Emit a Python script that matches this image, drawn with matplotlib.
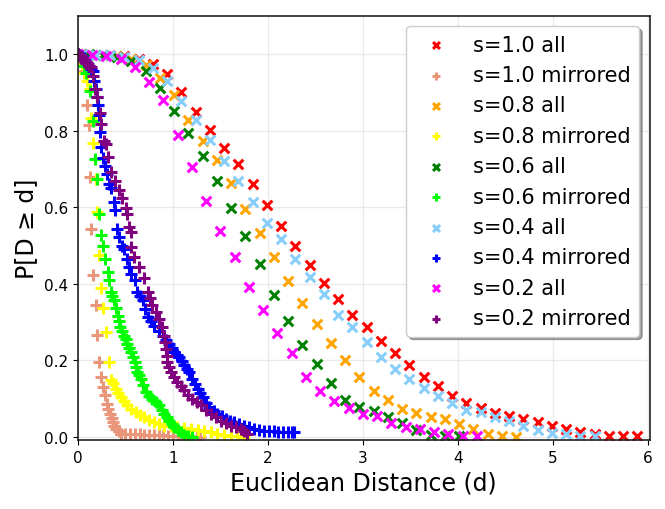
import matplotlib
matplotlib.use("Agg")
import matplotlib.pyplot as plt

# ---- "all" series (CCDF sampled on regular bins) ----
x_red = [0.04, 0.19, 0.34, 0.49, 0.64, 0.79, 0.94, 1.09, 1.24, 1.39, 1.54, 1.69, 1.84, 1.99,
         2.14, 2.29, 2.44, 2.59, 2.74, 2.89, 3.04, 3.19, 3.34, 3.49, 3.64, 3.79, 3.94, 4.09,
         4.24, 4.39, 4.54, 4.69, 4.84, 4.99, 5.14, 5.29, 5.44, 5.59, 5.74, 5.89]
y_s10_all = [1.0, 0.999, 0.998, 0.995, 0.988, 0.975, 0.947, 0.902, 0.849, 0.802, 0.755, 0.714,
             0.661, 0.605, 0.551, 0.500, 0.450, 0.403, 0.361, 0.319, 0.288, 0.250, 0.220, 0.189,
             0.157, 0.133, 0.107, 0.090, 0.076, 0.063, 0.056, 0.048, 0.039, 0.030, 0.022, 0.013,
             0.008, 0.003, 0.002, 0.002]

x_s04_all = x_red[:37]
y_s04_all = [1.0, 0.999, 0.997, 0.993, 0.985, 0.963, 0.931, 0.877, 0.827, 0.777, 0.721, 0.670,
             0.615, 0.560, 0.516, 0.464, 0.417, 0.373, 0.319, 0.287, 0.248, 0.209, 0.177, 0.152,
             0.129, 0.108, 0.088, 0.072, 0.065, 0.052, 0.041, 0.028, 0.019, 0.010, 0.007, 0.002,
             0.002]

x_s08_all = [0.115, 0.265, 0.415, 0.565, 0.715, 0.865, 1.015, 1.165, 1.315, 1.465, 1.615, 1.765,
             1.915, 2.065, 2.215, 2.365, 2.515, 2.665, 2.815, 2.965, 3.115, 3.265, 3.415, 3.565,
             3.715, 3.865, 4.015, 4.165, 4.315, 4.465, 4.615]
y_s08_all = [0.999, 0.998, 0.995, 0.988, 0.972, 0.938, 0.894, 0.827, 0.774, 0.724, 0.663, 0.596,
             0.533, 0.469, 0.407, 0.349, 0.295, 0.246, 0.200, 0.157, 0.121, 0.098, 0.074, 0.063,
             0.053, 0.047, 0.035, 0.020, 0.008, 0.003, 0.001]

x_s06_all = x_s08_all[:27]
y_s06_all = [1.0, 0.998, 0.993, 0.981, 0.957, 0.911, 0.851, 0.794, 0.734, 0.670, 0.599, 0.525,
             0.452, 0.372, 0.304, 0.241, 0.192, 0.141, 0.098, 0.078, 0.068, 0.052, 0.036, 0.018,
             0.006, 0.002, 0.002]

x_s02_all = [0.0, 0.15, 0.30, 0.45, 0.60, 0.75, 0.90, 1.05, 1.20, 1.35, 1.50, 1.65, 1.80, 1.95,
             2.10, 2.25, 2.40, 2.55, 2.70, 2.85, 3.00, 3.15, 3.30, 3.45, 3.60, 3.75, 3.90, 4.05, 4.20]
y_s02_all = [1.0, 0.999, 0.996, 0.988, 0.966, 0.927, 0.879, 0.789, 0.704, 0.616, 0.537, 0.471,
             0.392, 0.332, 0.272, 0.219, 0.158, 0.120, 0.094, 0.076, 0.060, 0.055, 0.037, 0.026,
             0.021, 0.014, 0.008, 0.002, 0.002]

# ---- "mirrored" series (empirical CCDFs, read along the dense marker bands) ----
x_s10_mir = [0.0, 0.02, 0.035, 0.05, 0.07, 0.095, 0.116, 0.131, 0.144, 0.165, 0.189, 0.207, 0.228,
             0.246, 0.263, 0.281, 0.305, 0.32, 0.341, 0.355, 0.368, 0.38, 0.404, 0.43, 0.457,
             0.5, 0.55, 0.6, 0.65, 0.7, 0.75, 0.8, 0.85, 0.9, 0.95, 1.0, 1.05, 1.1, 1.15, 1.2,
             1.25, 1.29]
y_s10_mir = [1.0, 0.995, 0.985, 0.97, 0.957, 0.868, 0.815, 0.680, 0.544, 0.424, 0.345, 0.267, 0.197,
             0.157, 0.131, 0.109, 0.087, 0.074, 0.061, 0.05, 0.039, 0.03, 0.022, 0.015, 0.009,
             0.008, 0.008, 0.007, 0.007, 0.006, 0.006, 0.005, 0.005, 0.005, 0.004, 0.004, 0.003,
             0.003, 0.002, 0.002, 0.001, 0.0]

x_s08_mir = [0.0, 0.02, 0.04, 0.07, 0.1, 0.131, 0.144, 0.165, 0.189, 0.207, 0.225, 0.242, 0.26,
             0.295, 0.33, 0.347, 0.37, 0.4, 0.425, 0.453, 0.49, 0.523, 0.565, 0.611, 0.655, 0.699,
             0.75, 0.804, 0.855, 0.909, 0.98, 1.049, 1.12, 1.19, 1.26, 1.33, 1.4, 1.47, 1.54,
             1.611, 1.68, 1.75]
y_s08_mir = [1.0, 0.99, 0.975, 0.95, 0.93, 0.909, 0.834, 0.768, 0.674, 0.587, 0.476, 0.389, 0.337,
             0.274, 0.196, 0.148, 0.14, 0.126, 0.115, 0.104, 0.093, 0.083, 0.074, 0.065, 0.058,
             0.052, 0.045, 0.039, 0.034, 0.030, 0.028, 0.026, 0.024, 0.022, 0.018, 0.015, 0.012,
             0.009, 0.006, 0.004, 0.002, 0.0]

x_s06_mir = [0.0, 0.03, 0.06, 0.09, 0.131, 0.165, 0.179, 0.207, 0.225, 0.242, 0.26, 0.284, 0.313,
             0.33, 0.347, 0.365, 0.383, 0.40, 0.418, 0.432, 0.446, 0.468, 0.488, 0.505, 0.523,
             0.54, 0.558, 0.578, 0.597, 0.612, 0.628, 0.646, 0.663, 0.69, 0.72, 0.753, 0.786,
             0.82, 0.857, 0.883, 0.909, 0.935, 0.962, 0.99, 1.015, 1.05, 1.084, 1.12, 1.16, 1.2]
y_s06_mir = [1.0, 0.99, 0.97, 0.95, 0.905, 0.825, 0.727, 0.673, 0.583, 0.528, 0.499, 0.466, 0.431,
             0.409, 0.379, 0.368, 0.357, 0.337, 0.317, 0.302, 0.287, 0.276, 0.265, 0.255, 0.244,
             0.233, 0.222, 0.209, 0.196, 0.183, 0.170, 0.161, 0.152, 0.135, 0.117, 0.108, 0.100,
             0.092, 0.083, 0.072, 0.061, 0.052, 0.043, 0.035, 0.026, 0.018, 0.013, 0.006, 0.003, 0.0]

x_s04_mir = [0.0, 0.02, 0.04, 0.06, 0.08, 0.1, 0.12, 0.14, 0.155, 0.172, 0.189, 0.202, 0.215, 0.225,
             0.232, 0.249, 0.26, 0.284, 0.305, 0.33, 0.347, 0.376, 0.389, 0.41, 0.436, 0.46, 0.488,
             0.516, 0.541, 0.565, 0.597, 0.628, 0.655, 0.681, 0.71, 0.734, 0.77, 0.804, 0.85,
             0.892, 0.93, 0.962, 0.99, 1.015, 1.04, 1.067, 1.095, 1.12, 1.145, 1.173, 1.207, 1.235,
             1.26, 1.29, 1.313, 1.35, 1.383, 1.43, 1.47, 1.515, 1.558, 1.6, 1.646, 1.7, 1.752,
             1.8, 1.857, 1.91, 1.962, 2.01, 2.06, 2.11, 2.16, 2.21, 2.25, 2.28]
y_s04_mir = [1.0, 0.998, 0.995, 0.99, 0.985, 0.978, 0.97, 0.962, 0.957, 0.931, 0.909, 0.888, 0.866,
             0.840, 0.796, 0.757, 0.728, 0.709, 0.687, 0.661, 0.650, 0.615, 0.592, 0.544, 0.522,
             0.500, 0.492, 0.466, 0.444, 0.426, 0.409, 0.379, 0.368, 0.357, 0.335, 0.313, 0.302,
             0.291, 0.278, 0.265, 0.254, 0.244, 0.232, 0.222, 0.215, 0.209, 0.198, 0.187, 0.178,
             0.170, 0.152, 0.139, 0.126, 0.115, 0.104, 0.090, 0.078, 0.069, 0.061, 0.054, 0.048,
             0.043, 0.039, 0.034, 0.030, 0.026, 0.022, 0.019, 0.017, 0.016, 0.015, 0.014, 0.014,
             0.013, 0.013, 0.013]

x_s02_mir = [0.0, 0.015, 0.03, 0.045, 0.06, 0.075, 0.09, 0.105, 0.12, 0.137, 0.155, 0.179, 0.207,
             0.236, 0.249, 0.278, 0.295, 0.32, 0.347, 0.389, 0.436, 0.47, 0.505, 0.523, 0.541,
             0.558, 0.565, 0.594, 0.646, 0.692, 0.734, 0.76, 0.786, 0.82, 0.857, 0.883, 0.909,
             0.918, 0.926, 0.935, 0.944, 0.96, 0.979, 1.015, 1.049, 1.085, 1.12, 1.165, 1.207,
             1.25, 1.295, 1.35, 1.4, 1.45, 1.505, 1.56, 1.611, 1.66, 1.716, 1.75, 1.786]
y_s02_mir = [1.0, 0.998, 0.995, 0.99, 0.985, 0.98, 0.977, 0.973, 0.97, 0.966, 0.944, 0.909, 0.888,
             0.846, 0.818, 0.774, 0.766, 0.731, 0.692, 0.670, 0.644, 0.624, 0.598, 0.583, 0.548,
             0.535, 0.496, 0.470, 0.444, 0.415, 0.379, 0.362, 0.344, 0.326, 0.309, 0.287, 0.265,
             0.248, 0.231, 0.213, 0.196, 0.183, 0.170, 0.157, 0.144, 0.133, 0.122, 0.111, 0.100,
             0.091, 0.083, 0.072, 0.061, 0.052, 0.043, 0.036, 0.030, 0.026, 0.022, 0.015, 0.009]

labels = ["s=1.0 all", "s=1.0 mirrored", "s=0.8 all", "s=0.8 mirrored", "s=0.6 all",
          "s=0.6 mirrored", "s=0.4 all", "s=0.4 mirrored", "s=0.2 all", "s=0.2 mirrored"]
colors = ["red", "darksalmon", "orange", "yellow", "green", "lime", "lightskyblue", "blue",
          "magenta", "purple"]
series = [(x_red, y_s10_all), (x_s10_mir, y_s10_mir), (x_s08_all, y_s08_all),
          (x_s08_mir, y_s08_mir), (x_s06_all, y_s06_all), (x_s06_mir, y_s06_mir),
          (x_s04_all, y_s04_all), (x_s04_mir, y_s04_mir), (x_s02_all, y_s02_all),
          (x_s02_mir, y_s02_mir)]

fig = plt.figure(figsize=(6.65, 5.1), dpi=100)
ax = fig.add_axes([0.117, 0.135, 0.86, 0.832])

for i, ((xs, ys), lab, c) in enumerate(zip(series, labels, colors)):
    mk = "x" if "all" in lab else "+"
    s = 48 if mk == "x" else 70
    ax.scatter(xs, ys, marker=mk, s=s, c=c, linewidths=2.2, label=lab)

ax.set_xlim(0, 6.02)
ax.set_ylim(-0.008, 1.1)
ax.set_xticks([0, 1, 2, 3, 4, 5, 6])
ax.set_yticks([0.0, 0.2, 0.4, 0.6, 0.8, 1.0])
ax.tick_params(labelsize=11)
ax.grid(True, color="#e2e2e2", linewidth=1.0, alpha=0.7)
ax.set_axisbelow(True)
for sp in ax.spines.values():
    sp.set_color("#222222")
    sp.set_linewidth(1.2)

ax.set_xlabel("Euclidean Distance (d)", fontsize=17)
ax.set_ylabel("P[D \u2265 d]", fontsize=17)

ax.legend(loc="upper right", fontsize=15, fancybox=True, shadow=True, markerscale=0.72,
          scatterpoints=1, handletextpad=0.8)

fig.savefig("out.png", dpi=100)
